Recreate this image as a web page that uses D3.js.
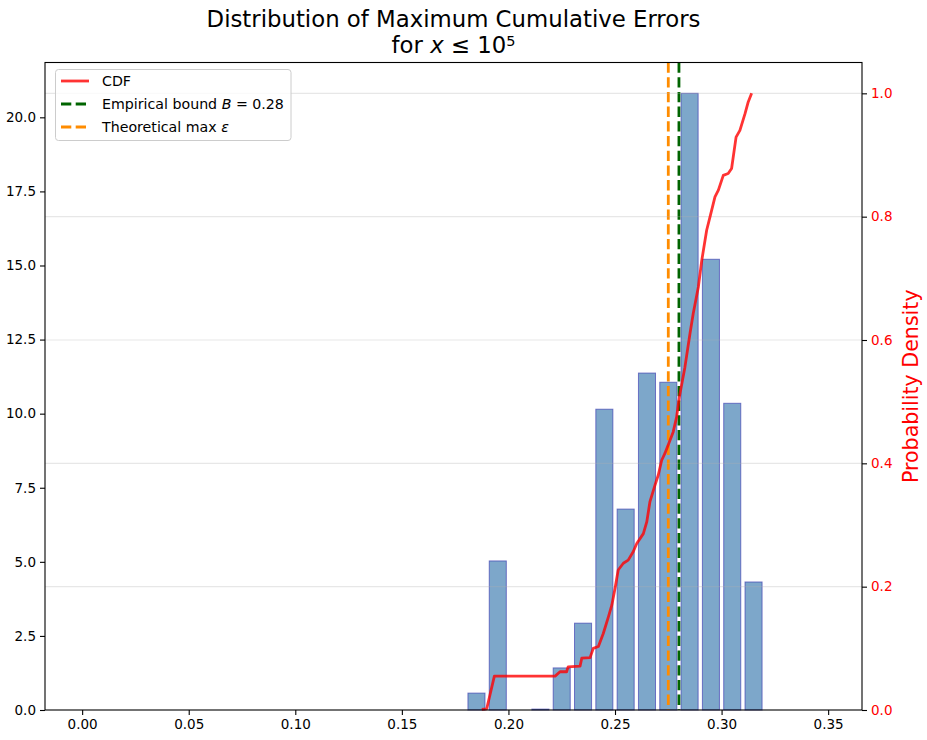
<!DOCTYPE html>
<html>
<head>
<meta charset="utf-8">
<script src="https://cdn.jsdelivr.net/npm/d3@7"></script>
<style>
  html, body { margin: 0; padding: 0; background: #fff; }
  svg { display: block; font-family: "DejaVu Sans", sans-serif; }
</style>
</head>
<body>
<svg id="chart" width="927" height="740"></svg>
<script>
// ---- data ----
const binEdges = [0.18, 0.19, 0.20, 0.21, 0.22, 0.23, 0.24, 0.25, 0.26, 0.27, 0.28, 0.29, 0.30, 0.31, 0.32];
const densities = [0.57, 5.03, 0, 0.03, 1.42, 2.93, 10.15, 6.78, 11.37, 11.06, 20.81, 15.21, 10.35, 4.32];
const cdfX = [0.1875, 0.1898, 0.1934, 0.2219, 0.2242, 0.2273, 0.2280, 0.2336, 0.2344, 0.2383, 0.2398, 0.2422,
  0.2445, 0.2469, 0.2485, 0.2500, 0.2515, 0.2539, 0.2562, 0.2586, 0.2602, 0.2633, 0.2649, 0.2664, 0.2688,
  0.2703, 0.2719, 0.2734, 0.2750, 0.2773, 0.2789, 0.2802, 0.2808, 0.2828, 0.2852, 0.2867, 0.2891, 0.2907,
  0.2930, 0.2946, 0.2969, 0.2985, 0.3008, 0.3031, 0.3047, 0.3068, 0.3086, 0.3110, 0.3125, 0.3141];
const cdfY = [0.001, 0.002, 0.055, 0.055, 0.062, 0.062, 0.070, 0.071, 0.084, 0.085, 0.100, 0.103,
  0.124, 0.151, 0.170, 0.197, 0.227, 0.238, 0.243, 0.257, 0.270, 0.286, 0.305, 0.338, 0.365,
  0.381, 0.405, 0.416, 0.430, 0.451, 0.475, 0.508, 0.519, 0.556, 0.611, 0.643, 0.686, 0.729,
  0.778, 0.800, 0.832, 0.843, 0.867, 0.870, 0.878, 0.929, 0.940, 0.967, 0.986, 1.000];
const empiricalBound = 0.28;
const theoreticalMax = 0.275;
const xTicks = [0, 0.05, 0.10, 0.15, 0.20, 0.25, 0.30, 0.35];
const yLeftTicks = [0, 2.5, 5, 7.5, 10, 12.5, 15, 17.5, 20];
const yRightTicks = [0, 0.2, 0.4, 0.6, 0.8, 1.0];

// ---- layout ----
const L = 45, R = 862, T = 62.5, B = 710;
const svg = d3.select("#chart");
const x = d3.scaleLinear().domain([-0.01743, 0.36588]).range([L, R]);
const yL = d3.scaleLinear().domain([0, 21.85]).range([B, T]);
const yR = d3.scaleLinear().domain([0, 1.05]).range([B, T]);
const rwidth = 0.8;

// bars
const bins = densities.map((d, i) => ({x0: binEdges[i], x1: binEdges[i + 1], v: d})).filter(b => b.v > 0);
svg.append("g").selectAll("rect").data(bins).join("rect")
  .attr("x", b => x(b.x0 + (1 - rwidth) / 2 * (b.x1 - b.x0)))
  .attr("width", b => rwidth * (x(b.x1) - x(b.x0)))
  .attr("y", b => yL(b.v))
  .attr("height", b => B - yL(b.v))
  .attr("fill", "steelblue").attr("fill-opacity", 0.7)
  .attr("stroke", "#3b3bb0").attr("stroke-opacity", 0.65).attr("stroke-width", 1);

// vertical lines
svg.append("line").attr("x1", x(theoreticalMax)).attr("x2", x(theoreticalMax)).attr("y1", T).attr("y2", B)
  .attr("stroke", "darkorange").attr("stroke-width", 2.8).attr("stroke-dasharray", "10.3,4.4");
svg.append("line").attr("x1", x(empiricalBound)).attr("x2", x(empiricalBound)).attr("y1", T).attr("y2", B)
  .attr("stroke", "darkgreen").attr("stroke-width", 2.8).attr("stroke-dasharray", "10.3,4.4");

// grid (right axis)
svg.append("g").selectAll("line").data(yRightTicks.filter(t => t > 0)).join("line")
  .attr("x1", L).attr("x2", R).attr("y1", d => yR(d)).attr("y2", d => yR(d))
  .attr("stroke", "#b0b0b0").attr("stroke-opacity", 0.3).attr("stroke-width", 1.1);

// CDF
const pts = cdfX.map((v, i) => [v, cdfY[i]]);
svg.append("path").datum(pts)
  .attr("d", d3.line().x(d => x(d[0])).y(d => yR(d[1])))
  .attr("fill", "none").attr("stroke", "red").attr("stroke-opacity", 0.8)
  .attr("stroke-width", 2.8).attr("stroke-linejoin", "round");

// axes
const fs = "13.5px";
const gx = svg.append("g").attr("transform", `translate(0,${B})`)
  .call(d3.axisBottom(x).tickValues(xTicks).tickFormat(d3.format(".2f")).tickSize(5).tickPadding(4));
const gl = svg.append("g").attr("transform", `translate(${L},0)`)
  .call(d3.axisLeft(yL).tickValues(yLeftTicks).tickFormat(d3.format(".1f")).tickSize(5).tickPadding(4));
const gr = svg.append("g").attr("transform", `translate(${R},0)`)
  .call(d3.axisRight(yR).tickValues(yRightTicks).tickFormat(d3.format(".1f")).tickSize(5).tickPadding(4));
[gx, gl, gr].forEach(g => {
  g.select(".domain").remove();
  g.selectAll("text").attr("font-family", "DejaVu Sans").attr("font-size", fs).attr("fill", "#000");
  g.selectAll("line").attr("stroke", "#000").attr("stroke-width", 1.1);
});
gr.selectAll("text").attr("fill", "red");

// frame
svg.append("rect").attr("x", L).attr("y", T).attr("width", R - L).attr("height", B - T)
  .attr("fill", "none").attr("stroke", "#000").attr("stroke-width", 1.1);

// right label
svg.append("text").attr("transform", `translate(918,${(T + B) / 2}) rotate(-90)`)
  .attr("text-anchor", "middle").attr("font-size", "20.6px").attr("fill", "red")
  .text("Probability Density");

// title
const cx = (L + R) / 2;
svg.append("text").attr("x", cx).attr("y", 27).attr("text-anchor", "middle").attr("font-size", "22.8px")
  .text("Distribution of Maximum Cumulative Errors");
const t2 = svg.append("text").attr("x", cx).attr("y", 53).attr("text-anchor", "middle").attr("font-size", "22.8px");
t2.append("tspan").text("for ");
t2.append("tspan").attr("font-style", "italic").text("x");
t2.append("tspan").text(" ≤ 10");
t2.append("tspan").attr("font-size", "14.5px").attr("dy", -7.5).text("5");

// legend
const lg = svg.append("g");
lg.append("rect").attr("x", 55.5).attr("y", 69.5).attr("width", 235.5).attr("height", 71).attr("rx", 3)
  .attr("fill", "#fff").attr("fill-opacity", 0.8).attr("stroke", "#cccccc").attr("stroke-width", 1);
const items = [
  {parts: [["CDF", false]], color: "red", dash: null, op: 0.8},
  {parts: [["Empirical bound ", false], ["B", true], [" = 0.28", false]], color: "darkgreen", dash: "10.3,4.4", op: 1},
  {parts: [["Theoretical max ", false], ["ε", true]], color: "darkorange", dash: "10.3,4.4", op: 1}
];
items.forEach((it, i) => {
  const yy = 81 + i * 23;
  const ln = lg.append("line").attr("x1", 61).attr("x2", 89).attr("y1", yy).attr("y2", yy)
    .attr("stroke", it.color).attr("stroke-opacity", it.op).attr("stroke-width", 2.8);
  if (it.dash) ln.attr("stroke-dasharray", it.dash);
  const tx = lg.append("text").attr("x", 102).attr("y", yy + 5).attr("font-size", "14.2px");
  it.parts.forEach(p => tx.append("tspan").attr("font-style", p[1] ? "italic" : null).text(p[0]));
});
</script>
</body>
</html>
